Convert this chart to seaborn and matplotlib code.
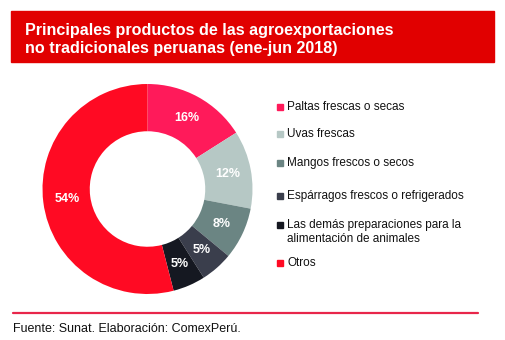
import matplotlib
matplotlib.use("Agg")
import matplotlib.pyplot as plt
from matplotlib.patches import Rectangle
from matplotlib.lines import Line2D
import seaborn as sns

# Data
productos = [
    "Paltas frescas o secas",
    "Uvas frescas",
    "Mangos frescos o secos",
    "Espárragos frescos o refrigerados",
    "Las demás preparaciones para la\nalimentación de animales",
    "Otros",
]
participacion = [16, 12, 8, 5, 5, 54]
colores = ["#FF1A5A", "#B6C8C5", "#6B8583", "#3A3E4C", "#151821", "#FF0A23"]

titulo = "Principales productos de las agroexportaciones\nno tradicionales peruanas (ene-jun 2018)"
fuente = "Fuente: Sunat. Elaboración: ComexPerú."

sns.set_theme(style="white")
plt.rcParams["font.family"] = ["Liberation Sans", "DejaVu Sans"]

W, H = 505, 340
fig = plt.figure(figsize=(W / 100, H / 100), dpi=100)
fig.patch.set_facecolor("white")

def fx(px):
    return px / W

def fy(py):
    return 1 - py / H

# Title banner
fig.patches.append(Rectangle((fx(11), fy(62)), fx(494) - fx(11), fy(11) - fy(62),
                             transform=fig.transFigure, color="#E10000", zorder=0))
fig.text(fx(25), fy(39), titulo, color="white", fontsize=11.6, fontweight="bold",
         ha="left", va="center", linespacing=1.25)

# Donut
cx, cy, r = 147.5, 189, 105
ax = fig.add_axes([fx(cx - r), fy(cy + r), 2 * r / W, 2 * r / H])
pal = sns.color_palette(colores)
wedges, texts, autotexts = ax.pie(
    participacion, colors=pal, startangle=90, counterclock=False, radius=1,
    wedgeprops=dict(width=0.45, linewidth=0),
    autopct=lambda p: f"{p:.0f}%", pctdistance=0.775,
    textprops=dict(color="white", fontsize=9, fontweight="bold"),
)
ax.set_xlim(-1, 1)
ax.set_ylim(-1, 1)
ax.set_aspect("equal")
ax.axis("off")

# Legend
filas = [107, 134, 163, 196, 232, 263]
for y, nombre, c in zip(filas, productos, colores):
    n = nombre.count("\n")
    top = y - 7 * n
    fig.patches.append(Rectangle((fx(277), fy(top + 3)), fx(6), 6 / H,
                                 transform=fig.transFigure, color=c))
    fig.text(fx(287), fy(y), nombre, fontsize=8.5, color="#111111", ha="left",
             va="center", linespacing=1.22)

# Footer
fig.lines.append(Line2D([fx(13), fx(478)], [fy(313), fy(313)], transform=fig.transFigure,
                        color="#E8264A", linewidth=1.6))
fig.text(fx(13), fy(329), fuente, fontsize=9.0, color="#111111", ha="left", va="center")

fig.savefig("out.png", dpi=100)
